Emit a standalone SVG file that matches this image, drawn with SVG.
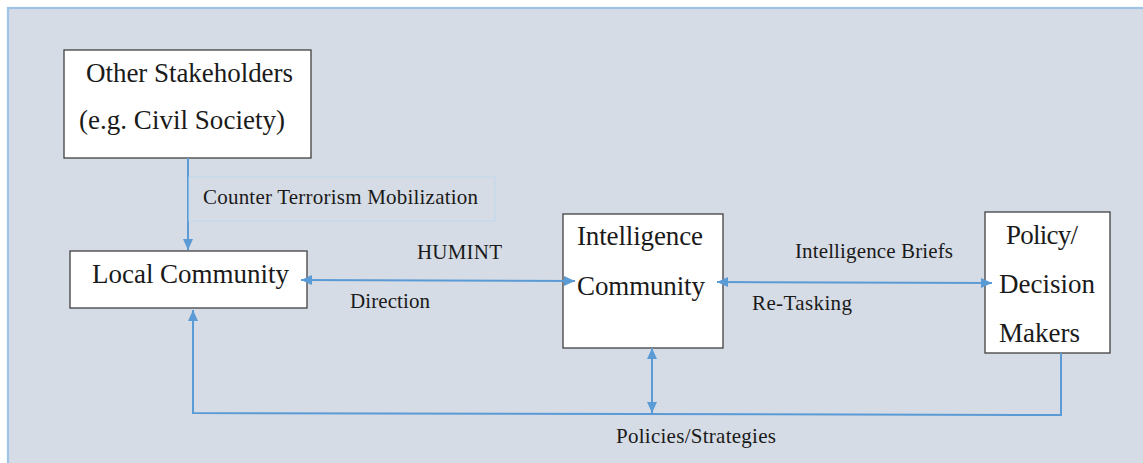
<svg xmlns="http://www.w3.org/2000/svg" width="1143" height="463" viewBox="0 0 1143 463">
  <defs>
    <marker id="arr" markerUnits="userSpaceOnUse" markerWidth="12" markerHeight="10" refX="11" refY="5" orient="auto-start-reverse">
      <path d="M0,0 L11,5 L0,10 z" fill="#5b9bd5"/>
    </marker>
    <style>
      .node { fill: #ffffff; stroke: #404040; stroke-width: 1.3; }
      .nt { font-family: "Liberation Serif", "Times New Roman", serif; font-size: 27px; fill: #1a1a1a; }
      .lt { font-family: "Liberation Serif", "Times New Roman", serif; font-size: 21px; fill: #1a1a1a; }
      .conn { fill: none; stroke: #5b9bd5; stroke-width: 2; }
    </style>
  </defs>

  <!-- background panel -->
  <rect x="8" y="8" width="1150" height="470" fill="#d6dce5" stroke="#9dc3e6" stroke-width="2.2"/>

  <!-- nodes -->
  <g id="other-stakeholders">
    <rect class="node" x="64" y="50" width="247" height="108"/>
    <text class="nt" x="86" y="82" textLength="207">Other Stakeholders</text>
    <text class="nt" x="79" y="129" textLength="206">(e.g. Civil Society)</text>
  </g>

  <g id="local-community">
    <rect class="node" x="70" y="251" width="237" height="57"/>
    <text class="nt" x="92" y="283" textLength="197">Local Community</text>
  </g>

  <g id="intelligence-community">
    <rect class="node" x="563" y="214" width="160" height="134"/>
    <text class="nt" x="577" y="245" textLength="126">Intelligence</text>
    <text class="nt" x="577" y="295" textLength="128">Community</text>
  </g>

  <g id="policy-makers">
    <rect class="node" x="985" y="212" width="125" height="141"/>
    <text class="nt" x="1006" y="244" textLength="72">Policy/</text>
    <text class="nt" x="999" y="293" textLength="96">Decision</text>
    <text class="nt" x="999" y="342" textLength="81">Makers</text>
  </g>

  <!-- connectors -->
  <g id="connectors">
    <line class="conn" x1="188" y1="158" x2="188" y2="250" marker-end="url(#arr)"/>
    <rect x="189" y="177" width="306" height="44" fill="none" stroke="#bdd7ee" stroke-width="1"/>
    <line class="conn" x1="301" y1="280" x2="575" y2="281" marker-start="url(#arr)" marker-end="url(#arr)"/>
    <line class="conn" x1="717" y1="282" x2="992" y2="283" marker-start="url(#arr)" marker-end="url(#arr)"/>
    <polyline class="conn" points="1061,353 1061,415 193,413 193,310" marker-end="url(#arr)"/>
    <line class="conn" x1="652" y1="348" x2="652" y2="413" marker-start="url(#arr)" marker-end="url(#arr)"/>
  </g>

  <!-- labels -->
  <g id="labels">
    <text class="lt" x="203" y="204" textLength="275">Counter Terrorism Mobilization</text>
    <text class="lt" x="417" y="259" textLength="85">HUMINT</text>
    <text class="lt" x="350" y="308" textLength="80">Direction</text>
    <text class="lt" x="795" y="258" textLength="158">Intelligence Briefs</text>
    <text class="lt" x="752" y="310" textLength="100">Re-Tasking</text>
    <text class="lt" x="616" y="443" textLength="160">Policies/Strategies</text>
  </g>
</svg>
